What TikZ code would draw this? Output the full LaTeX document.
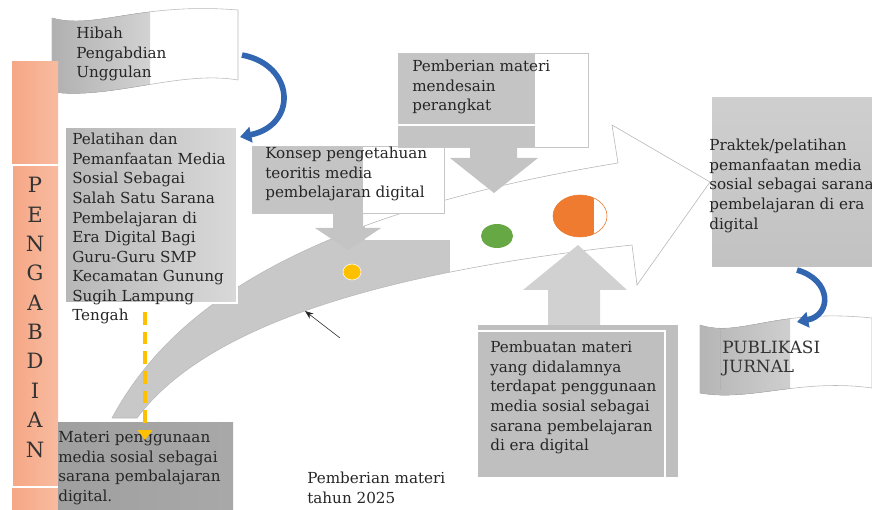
\documentclass[tikz,border=0pt]{standalone}
\usepackage{fontspec}
\setmainfont{DejaVu Serif}
\usepackage{tikz}
\usetikzlibrary{arrows.meta}
\definecolor{barorange}{HTML}{F5A785}
\definecolor{barlight}{HTML}{F8BBA0}
\definecolor{arcblue}{HTML}{3366B0}
\definecolor{dotyellow}{HTML}{FFC000}
\definecolor{dotgreen}{HTML}{66A844}
\definecolor{dotorange}{HTML}{EE7B30}
\tikzstyle{txt} = [inner sep=0pt, anchor=north west, align=left, text=black!85, font=\fontsize{10.8}{13.9}\selectfont]
\tikzstyle{bigtxt} = [inner sep=0pt, anchor=north west, align=left, text=black!80, font=\fontsize{12}{13.6}\selectfont]
\tikzstyle{callout} = [fill=gray!46]
\tikzstyle{bluearc} = [arcblue, line width=4pt, -{Triangle[width=11pt,length=8pt]}]
\tikzstyle{dasharrow} = [dotyellow, line width=2.8pt, dash pattern=on 9pt off 5pt, -{Triangle[width=10pt,length=7pt]}]
\newcommand{\bandpath}{(112,418) .. controls (170,310) and (300,215) .. (618,163) -- (612,125) -- (710,182) -- (637,285) -- (632,245) .. controls (400,270) and (210,320) .. (137,418) -- cycle}
\newcommand{\hibahpath}{(52,18) .. controls (95,30) and (140,2) .. (238,10) -- (238,80) .. controls (180,70) and (110,100) .. (52,92) -- cycle}
\newcommand{\pubpath}{(700,325) .. controls (740,338) and (775,308) .. (872,318) -- (872,388) .. controls (800,378) and (750,402) .. (700,393) -- cycle}

\begin{document}
\begin{tikzpicture}[x=0.025cm, y=-0.025cm]
        \useasboundingbox (0,0) rectangle (872,510);

        % big curved arrow
        \fill[gray!43] \bandpath;
        \begin{scope}
            \clip \bandpath;
            \fill[white] (450,0) rectangle (872,510);
            \fill[white] (365,0) rectangle (450,240);
        \end{scope}
        \draw[gray!55, thin] \bandpath;

        % callouts
        \fill[white] (252,146) rectangle (444,213);
        \fill[callout] (252,146) rectangle (363,213);
        \draw[gray!45] (252,146) rectangle (444,213);
        \fill[callout] (333,213) -- (363,213) -- (363,228) -- (381,228) -- (348,250) -- (315,228) -- (333,228) -- cycle;
        \fill[white] (398,53) rectangle (588,147);
        \fill[callout] (398,53) rectangle (535,147);
        \draw[gray!45] (398,53) rectangle (588,147);
        \draw[white, line width=0.8pt] (398,125) -- (535,125);
        \fill[callout] (470,147) -- (517,147) -- (517,158) -- (538,158) -- (494,193) -- (450,158) -- (470,158) -- cycle;
        \fill[gray!36] (548,325) -- (548,290) -- (523,290) -- (578,245) -- (627,290) -- (600,290) -- (600,325) -- cycle;
        \fill[gray!50] (478,325) rectangle (678,477);
        \draw[white, line width=0.8pt] (478,331) -- (665,331) -- (665,477);
        \fill[top color=gray!38, bottom color=gray!48] (712,98) rectangle (872,267);

        % dots
        \fill[dotyellow, draw=white] (352,272) ellipse (9 and 8);
        \fill[dotgreen] (497,236) ellipse (16 and 12);
        \fill[dotorange] (580,216) ellipse (27 and 21);
        \begin{scope}
            \clip (580,216) ellipse (27 and 21);
            \fill[white] (594,190) rectangle (610,240);
        \end{scope}
        \draw[dotorange] (580,216) ellipse (27 and 21);

        % banners and boxes
        \fill[white] \hibahpath;
        \begin{scope}
            \clip \hibahpath;
            \fill[left color=gray!62, right color=gray!35] (52,0) rectangle (150,100);
        \end{scope}
        \draw[gray!55] \hibahpath;
        \fill[left color=gray!56, right color=gray!30] (65,127) rectangle (237,303);
        \draw[white, line width=0.8pt] (65,127) rectangle (237,303);
        \fill[left color=barorange, right color=barlight] (12,62) rectangle (58,510);
        \draw[white, line width=0.8pt] (12,165) rectangle (63,487);
        \fill[left color=gray!75, right color=gray!68] (58,422) rectangle (233,510);
        \fill[white] \pubpath;
        \begin{scope}
            \clip \pubpath;
            \fill[left color=gray!58, right color=gray!38] (700,300) rectangle (790,410);
        \end{scope}
        \draw[gray!55] \pubpath;
        \draw[gray!60] (720,330) -- (720,390);

        % texts
        \node (pengabdian) [bigtxt, anchor=north, align=center, font=\fontsize{15}{20.9}\selectfont] at (35,177) {P\\E\\N\\G\\A\\B\\D\\I\\A\\N};
        \node (hibah) [txt] at (76,27) {Hibah\\Pengabdian\\Unggulan};
        \node (latih) [txt] at (72,133) {Pelatihan dan\\Pemanfaatan Media\\Sosial Sebagai\\Salah Satu Sarana\\Pembelajaran di\\Era Digital Bagi\\Guru-Guru SMP\\Kecamatan Gunung\\Sugih Lampung\\Tengah};
        \node (konsep) [txt] at (265,147) {Konsep pengetahuan\\teoritis media\\pembelajaran digital};
        \node (desain) [txt] at (412,60) {Pemberian materi\\mendesain\\perangkat};
        \node (buat) [txt] at (490,341) {Pembuatan materi\\yang didalamnya\\terdapat penggunaan\\media sosial sebagai\\sarana pembelajaran\\di era digital};
        \node (praktek) [txt] at (709,139) {Praktek/pelatihan\\pemanfaatan media\\sosial sebagai sarana\\pembelajaran di era\\digital};
        \node (materi) [txt] at (58,431) {Materi penggunaan\\media sosial sebagai\\sarana pembalajaran\\digital.};
        \node (tahun) [txt] at (307,472) {Pemberian materi\\tahun 2025};
        \node (publikasi) [bigtxt] at (722,341) {PUBLIKASI\\JURNAL};

        % connectors
        \coordinate (hibahR) at (242,55);
        \coordinate (latihR) at (240,137);
        \coordinate (praktekB) at (797,270);
        \coordinate (pubT) at (797,322);
        \coordinate (dashS) at (145,312);
        \coordinate (dashE) at (145,440);
        \coordinate (ptrS) at (340,338);
        \coordinate (ptrE) at (305,311);
        \draw [bluearc] (hibahR) .. controls (295,65) and (298,125) .. (latihR);
        \draw [bluearc] (praktekB) .. controls (832,280) and (832,315) .. (pubT);
        \draw [dasharrow] (dashS) -- (dashE);
        \draw [black!85, -{Stealth[length=6pt]}] (ptrS) -- (ptrE);
    \end{tikzpicture}
\end{document}
